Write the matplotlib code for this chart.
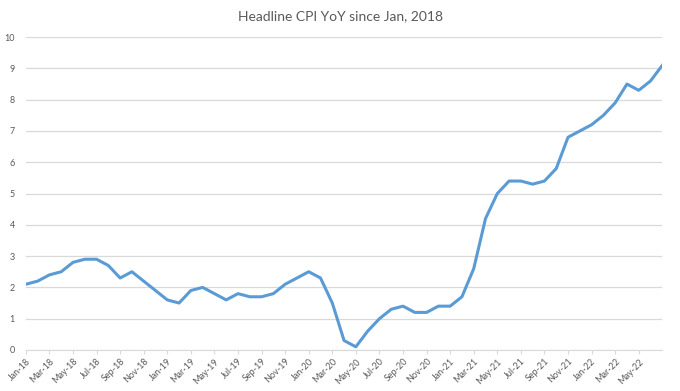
import matplotlib
matplotlib.use("Agg")
import matplotlib.pyplot as plt

plt.rcParams['font.family'] = ['Lato', 'DejaVu Sans']

# monthly CPI YoY, Jan-18 .. Jul-22
months = []
for yr in range(18, 23):
    for m in ['Jan', 'Feb', 'Mar', 'Apr', 'May', 'Jun', 'Jul', 'Aug', 'Sep', 'Oct', 'Nov', 'Dec']:
        months.append(f"{m}-{yr}")
months = months[:55]

cpi_yoy = [2.1, 2.2, 2.4, 2.5, 2.8, 2.9, 2.9, 2.7, 2.3, 2.5, 2.2, 1.9,
           1.6, 1.5, 1.9, 2.0, 1.8, 1.6, 1.8, 1.7, 1.7, 1.8, 2.1, 2.3,
           2.5, 2.3, 1.5, 0.3, 0.1, 0.6, 1.0, 1.3, 1.4, 1.2, 1.2, 1.4,
           1.4, 1.7, 2.6, 4.2, 5.0, 5.4, 5.4, 5.3, 5.4, 5.8, 6.8, 7.0,
           7.2, 7.5, 7.9, 8.5, 8.3, 8.6, 9.1]

y_ticks = list(range(0, 11))

fig = plt.figure(figsize=(6.8, 3.91), dpi=100)
ax = fig.add_axes([0.038, 0.105, 0.936, 0.8])

x = list(range(len(cpi_yoy)))
ax.plot(x, cpi_yoy, color="#5B9BD5", lw=2.2, solid_joinstyle='round', zorder=3)

ax.set_xlim(0, len(cpi_yoy) - 1)
ax.set_ylim(0, 10)
ax.set_yticks(y_ticks)
ax.grid(axis='y', color="#D9D9D9", lw=0.9)
ax.set_axisbelow(True)

# every other month, the last month has no label
ax.set_xticks(x[:-1:2])
ax.set_xticklabels(months[:-1:2], rotation=45, ha='right', va='top',
                   rotation_mode='anchor', fontsize=6.5, color="#595959")
ax.tick_params(axis='x', length=3, color="#D9D9D9", pad=2)
ax.tick_params(axis='y', length=0, labelsize=6.5, labelcolor="#595959", pad=8)

for s in ['top', 'right', 'left']:
    ax.spines[s].set_visible(False)
ax.spines['bottom'].set_color("#D9D9D9")

fig.suptitle("Headline CPI YoY since Jan, 2018", y=0.975, fontsize=10, color="#595959")

fig.savefig("out.png", dpi=100, facecolor="white")
